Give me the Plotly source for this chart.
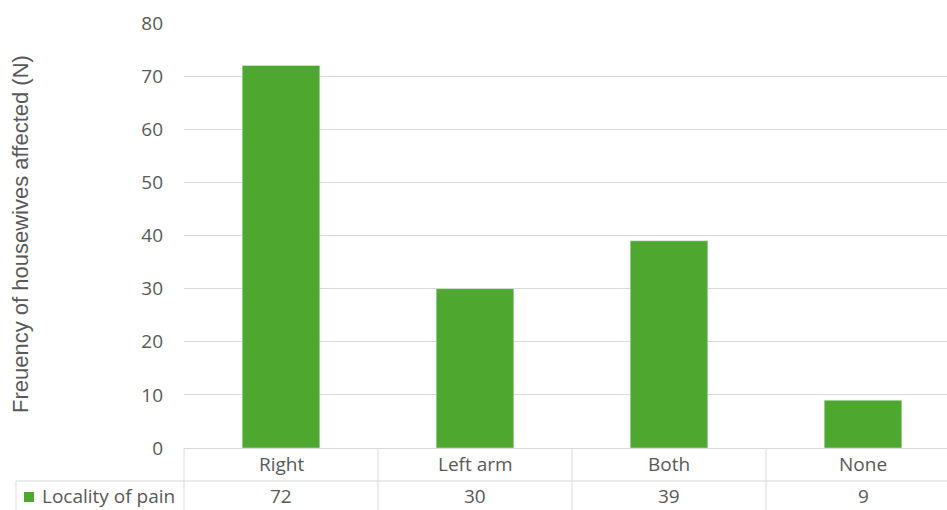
import plotly.graph_objects as go

categories = ["Right", "Left arm", "Both", "None"]
values = [72, 30, 39, 9]
series_name = "Locality of pain"
y_title = "Freuency of housewives affected (N)"
y_ticks = [0, 10, 20, 30, 40, 50, 60, 70, 80]

W, H = 947, 510
ML, MT, MB = 184, 23, 62
plot_w = W - ML
plot_h = H - MT - MB
GREEN = "#4EA72E"
TXT = "#595959"
GRID = "#D9D9D9"
FONT = "Open Sans"
FS = 19

n = len(categories)
cat_px = 194.0
x_range = [-0.5, -0.5 + plot_w / cat_px]

fig = go.Figure(go.Bar(x=list(range(n)), y=values, marker_color=GREEN, width=0.4, name=series_name))

def py(px):  # pixel y -> paper
    return (H - MB - px) / plot_h

def pxp(px):  # pixel x -> paper
    return (px - ML) / plot_w

shapes = []
line = dict(color=GRID, width=1)
shapes.append(dict(type="line", xref="paper", yref="paper", x0=pxp(16), x1=1, y0=py(481), y1=py(481), line=line))
shapes.append(dict(type="line", xref="paper", yref="paper", x0=0, x1=0, y0=0, y1=py(512), line=line))
shapes.append(dict(type="line", xref="paper", yref="paper", x0=pxp(16), x1=pxp(16), y0=py(481), y1=py(512), line=line))
for i in range(n - 1):
    shapes.append(dict(type="line", xref="x", yref="paper", x0=i + 0.5, x1=i + 0.5, y0=0, y1=py(512), line=line))
shapes.append(dict(type="rect", xref="paper", yref="paper", x0=pxp(24), x1=pxp(34), y0=py(502), y1=py(492),
                   fillcolor=GREEN, line=dict(width=0)))

ann = []
tf = dict(family=FONT, size=FS, color=TXT)
for i, (c, v) in enumerate(zip(categories, values)):
    ann.append(dict(x=i, xref="x", y=py(464), yref="paper", text=c, showarrow=False,
                    font=tf, xanchor="center", yanchor="middle"))
    ann.append(dict(x=i, xref="x", y=py(496), yref="paper", text=str(v), showarrow=False,
                    font=tf, xanchor="center", yanchor="middle"))
ann.append(dict(x=pxp(40), xref="paper", y=py(496), yref="paper", text=series_name, showarrow=False,
                font=tf, xanchor="left", yanchor="middle"))
ann.append(dict(x=pxp(20), xref="paper", y=py(234), yref="paper", text=y_title, showarrow=False, textangle=-90,
                font=dict(family="Liberation Sans", size=22, color=TXT), xanchor="center", yanchor="middle"))

fig.update_layout(
    width=W, height=H,
    margin=dict(l=ML, r=0, t=MT, b=MB, pad=0),
    paper_bgcolor="white", plot_bgcolor="white",
    showlegend=False,
    shapes=shapes, annotations=ann,
    xaxis=dict(range=x_range, showticklabels=False, showgrid=False, zeroline=False, showline=False, fixedrange=True),
    yaxis=dict(range=[0, 80], tickvals=y_ticks, showgrid=True, gridcolor=GRID, gridwidth=1,
               zeroline=True, zerolinecolor=GRID, zerolinewidth=1, showline=False,
               tickfont=tf, ticklabelstandoff=20),
    bargap=0.6,
)
fig.write_html("out.html")
